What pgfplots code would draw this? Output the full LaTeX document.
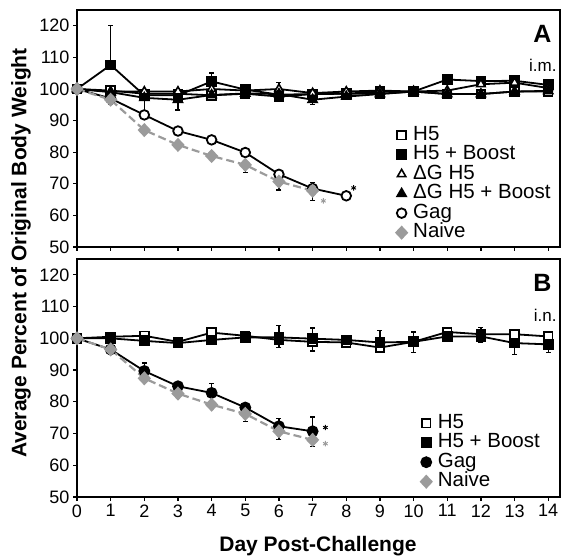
\documentclass[border=0pt]{standalone}
\usepackage{fontspec}
\setmainfont{Liberation Sans}
\usepackage{pgfplots}
\pgfplotsset{compat=1.18}
\definecolor{nv}{RGB}{155,155,155}

\pgfplotsset{
  panel/.style={
    scale only axis, width=483bp,
    xmin=0, xmax=14.35, ymin=50, ymax=125,
    xtick={0,...,14}, ytick={50,60,...,120},
    tick align=outside, xtick pos=bottom, ytick pos=left,
    major tick length=4bp,
    tick style={line width=1.2bp, black},
    axis line style={line width=2bp},
    ticklabel style={font=\fontsize{18bp}{18bp}\selectfont},
    /pgf/number format/assume math mode=true,
    clip=false,
    legend cell align=left,
    legend style={draw=none, fill=none, inner sep=0pt,
      font=\fontsize{20.5bp}{20.5bp}\selectfont,
      nodes={inner sep=1.5bp, text height=14bp, text depth=4bp},
      row sep=-1.5bp},
    legend image code/.code={\path (0bp,0bp) (15bp,0bp); \draw[##1, only marks] plot coordinates {(6bp,0bp)};},
    error bars/error bar style={line width=1.4bp, black, solid},
    error bars/error mark options={rotate=90, mark size=2.5bp, line width=1.4bp, black},
  },
  ser/.style={black, line width=1.8bp},
  osq/.style={ser, mark=square*, mark size=4.3bp, mark options={fill=white, line width=1.8bp}},
  fsq/.style={ser, mark=square*, mark size=4.5bp, mark options={fill=black}},
  otr/.style={ser, mark=triangle*, mark size=4.8bp, mark options={fill=white, line width=1.6bp}},
  ftr/.style={ser, mark=triangle*, mark size=5bp, mark options={fill=black}},
  oci/.style={ser, mark=*, mark size=4.8bp, mark options={fill=white, line width=1.8bp}},
  fci/.style={ser, mark=*, mark size=5bp, mark options={fill=black}},
  nai/.style={nv, line width=2.2bp, dash pattern=on 8bp off 4bp, mark=diamond*, mark size=5.5bp, mark options={solid, fill=nv, draw=nv, xscale=1.25}},
  eb/.style={forget plot, only marks, mark=none, error bars/.cd, y dir=both, y explicit},
}

\begin{document}
\begin{tikzpicture}
\path[use as bounding box] (0bp,0bp) rectangle (562bp,558bp);

% ---------------- Panel A ----------------
\begin{axis}[panel, height=237bp, at={(77bp,311bp)}, anchor=south west,
  xticklabels={},
  legend style={at={(0.657,0.517)}, anchor=north west}]
\addplot[eb] coordinates {
 (1,107.6) += (0,12.4) -= (0,0)
 (2,97.2) += (0,0) -= (0,5)
 (3,96.6) += (0,0) -= (0,3.2)
 (4,102.4) += (0,2.6) -= (0,0)
 (6,100) += (0,2) -= (0,0)
 (7,96.6) += (0,0) -= (0,1.5)
 (11,103) += (0,0.8) -= (0,0)
 (12,102.5) += (0,1.5) -= (0,0)
 (13,102.6) += (0,1.3) -= (0,0)
 (1,96.6) += (0,0) -= (0,1.5)
 (5,76) += (0,0) -= (0,2.5)
 (6,70.7) += (0,0) -= (0,2.7)
 (7,67.8) += (0,2.6) -= (0,3)
};
\addplot[osq] coordinates {(0,100)(1,99.5)(2,98.5)(3,98.5)(4,98)(5,98.5)(6,97.6)(7,98.4)(8,98.5)(9,98.5)(10,99.2)(11,98.4)(12,98.4)(13,99.2)(14,99.2)};
\addlegendentry{H5}
\addplot[fsq] coordinates {(0,100)(1,107.6)(2,98)(3,98)(4,102.4)(5,99.8)(6,98.2)(7,98.4)(8,98.5)(9,99.2)(10,99.2)(11,103)(12,102.5)(13,102.6)(14,101.3)};
\addlegendentry{H5 + Boost}
\addplot[otr] coordinates {(0,100)(1,99.2)(2,99.2)(3,99.2)(4,100)(5,99.5)(6,100)(7,98.7)(8,99.2)(9,99.5)(10,99.2)(11,99.5)(12,101.5)(13,102)(14,100.3)};
\addlegendentry{ΔG H5}
\addplot[ftr] coordinates {(0,100)(1,99)(2,97.2)(3,96.6)(4,98.1)(5,98.6)(6,98.4)(7,96.6)(8,97.6)(9,98.4)(10,99.2)(11,98.4)(12,98.4)(13,99.2)(14,99.4)};
\addlegendentry{ΔG H5 + Boost}
\addplot[oci] coordinates {(0,100)(1,97)(2,91.8)(3,86.7)(4,83.9)(5,79.9)(6,73)(7,68.5)(8,66.2)};
\addlegendentry{Gag}
\addplot[nai] coordinates {(0,100)(1,96.6)(2,87)(3,82.3)(4,78.8)(5,76)(6,70.7)(7,67.8)};
\addlegendentry{Naive}
\addplot[forget plot, only marks, mark=asterisk, mark size=2.7bp, black, line width=0.9bp] coordinates {(8.22,68.7)};
\addplot[forget plot, only marks, mark=asterisk, mark size=2.7bp, nv, line width=0.9bp] coordinates {(7.32,64.6)};
\end{axis}

% ---------------- Panel B ----------------
\begin{axis}[panel, height=238bp, at={(77bp,61bp)}, anchor=south west,
  legend style={at={(0.708,0.355)}, anchor=north west}]
\addplot[eb] coordinates {
 (2,100.8) += (0,1) -= (0,0)
 (4,101.8) += (0,1.5) -= (0,3)
 (5,100.8) += (0,1) -= (0,1)
 (6,99.5) += (0,4.5) -= (0,2.3)
 (7,98.9) += (0,4.3) -= (0,2.9)
 (8,98.7) += (0,1) -= (0,1)
 (9,97.1) += (0,5.3) -= (0,1.5)
 (10,98.9) += (0,3.1) -= (0,3.3)
 (11,101.5) += (0,1.5) -= (0,1.5)
 (12,101) += (0,2.5) -= (0,2.2)
 (13,98.5) += (0,0) -= (0,3.5)
 (14,98.1) += (0,0) -= (0,2.5)
 (1,96.5) += (0,0) -= (0,1.5)
 (2,89.7) += (0,2.5) -= (0,1)
 (3,84.9) += (0,1) -= (0,1)
 (4,82.8) += (0,3) -= (0,1)
 (5,78.2) += (0,1) -= (0,1)
 (5,76.2) += (0,0) -= (0,2.5)
 (6,72.3) += (0,2.5) -= (0,0)
 (6,70.7) += (0,0) -= (0,2.5)
 (7,70.7) += (0,4.5) -= (0,1)
 (7,68) += (0,0) -= (0,2)
};
\addplot[osq] coordinates {(0,100)(1,100.5)(2,100.8)(3,98.9)(4,101.8)(5,100.8)(6,99.5)(7,98.9)(8,98.7)(9,97.1)(10,98.9)(11,102)(12,101.3)(13,101.3)(14,100.6)};
\addlegendentry{H5}
\addplot[fsq] coordinates {(0,100)(1,100)(2,99.2)(3,98.5)(4,99.5)(5,100.3)(6,100.3)(7,99.9)(8,99.5)(9,98.7)(10,98.9)(11,100.6)(12,100.6)(13,98.5)(14,98.1)};
\addlegendentry{H5 + Boost}
\addplot[fci] coordinates {(0,100)(1,96.5)(2,89.7)(3,84.9)(4,82.8)(5,78.2)(6,72.3)(7,70.7)};
\addlegendentry{Gag}
\addplot[nai] coordinates {(0,100)(1,96.5)(2,87.4)(3,82.6)(4,79.1)(5,76.2)(6,70.7)(7,68)};
\addlegendentry{Naive}
\addplot[forget plot, only marks, mark=asterisk, mark size=2.7bp, black, line width=0.9bp] coordinates {(7.38,71.9)};
\addplot[forget plot, only marks, mark=asterisk, mark size=2.7bp, nv, line width=0.9bp] coordinates {(7.38,66.8)};
\end{axis}

% ---------------- Labels ----------------
\node[anchor=east, font=\fontsize{25bp}{25bp}\selectfont\bfseries] at (555bp,524bp) {A};
\node[anchor=east, font=\fontsize{17bp}{17bp}\selectfont] at (560bp,493bp) {i.m.};
\node[anchor=east, font=\fontsize{25bp}{25bp}\selectfont\bfseries] at (555bp,275bp) {B};
\node[anchor=east, font=\fontsize{17bp}{17bp}\selectfont] at (560bp,243bp) {i.n.};
\node[rotate=90, font=\fontsize{21bp}{21bp}\selectfont\bfseries] at (21bp,305bp) {Average Percent of Original Body Weight};
\node[font=\fontsize{21bp}{21bp}\selectfont\bfseries] at (318bp,12bp) {Day Post-Challenge};
\end{tikzpicture}
\end{document}
